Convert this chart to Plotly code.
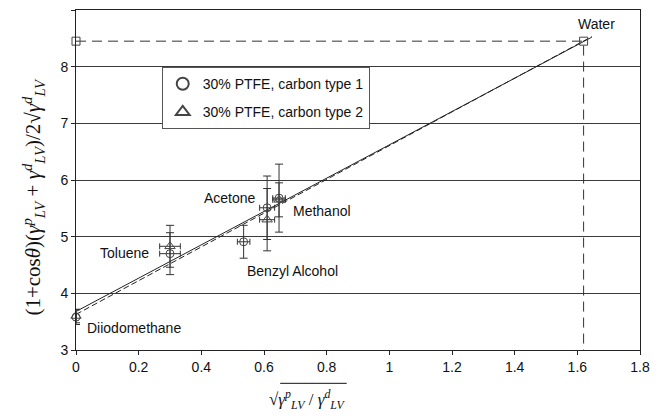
import plotly.graph_objects as go

# ---- data ----
solvents = ["Diiodomethane", "Toluene", "Benzyl Alcohol", "Acetone", "Methanol"]
x_type1 = [0.0, 0.30, 0.535, 0.61, 0.648]
y_type1 = [3.58, 4.70, 4.91, 5.51, 5.68]
ey_type1 = [0.13, 0.37, 0.29, 0.56, 0.60]
ex_type1 = [0.0, 0.033, 0.02, 0.024, 0.02]

x_type2 = [0.0, 0.30, 0.61, 0.648]
y_type2 = [3.60, 4.83, 5.30, 5.65]
ey_type2 = [0.12, 0.37, 0.55, 0.30]
ex_type2 = [0.0, 0.033, 0.024, 0.02]

water_x = [1.62]
water_y = [8.45]

fit1_x = [0.0, 1.646]
fit1_y = [3.68, 8.52]
fit2_x = [0.0, 1.646]
fit2_y = [3.628, 8.53]

label_x = [1.66, 0.58, 0.686, 0.54, 0.07, 0.03]
label_y = [8.76, 5.68, 5.45, 4.40, 4.71, 3.39]
label_text = ["Water", "Acetone", "Methanol", "Benzyl Alcohol", "Toluene", "Diiodomethane"]
label_anchor = ["center", "right", "left", "left", "left", "left"]

x_ticks = [0, 0.2, 0.4, 0.6, 0.8, 1.0, 1.2, 1.4, 1.6, 1.8]
x_ticktext = ["0", "0.2", "0.4", "0.6", "0.8", "1", "1.2", "1.4", "1.6", "1.8"]
y_ticks = [3, 4, 5, 6, 7, 8, 9]

FONT = "Liberation Sans, Arial, sans-serif"
SERIF = "Liberation Serif, Times New Roman, serif"
GRAY = "#3a3a3a"

fig = go.Figure()

# fit lines
fig.add_trace(go.Scatter(x=fit1_x, y=fit1_y, mode="lines",
                         line=dict(color="#222222", width=1), showlegend=False, hoverinfo="skip"))
fig.add_trace(go.Scatter(x=fit2_x, y=fit2_y, mode="lines",
                         line=dict(color="#222222", width=1, dash="6px,3px"), showlegend=False, hoverinfo="skip"))

# water guide lines
fig.add_trace(go.Scatter(x=[0, water_x[0], water_x[0]], y=[water_y[0], water_y[0], 3],
                         mode="lines", line=dict(color="#333333", width=1, dash="10px,6px"),
                         showlegend=False, hoverinfo="skip"))

# series
fig.add_trace(go.Scatter(
    x=x_type1, y=y_type1, mode="markers", name="30% PTFE, carbon type 1", cliponaxis=False,
    legendgroup="a",
    marker=dict(symbol="circle-open", size=8, color="#444444", line=dict(width=1)),
    error_y=dict(type="data", array=ey_type1, visible=True, color="#333333", thickness=1, width=4),
    error_x=dict(type="data", array=ex_type1, visible=True, color="#333333", thickness=1, width=3),
))
fig.add_trace(go.Scatter(
    x=x_type2, y=y_type2, mode="markers", name="30% PTFE, carbon type 2", cliponaxis=False,
    legendgroup="b",
    marker=dict(symbol="triangle-up-open", size=9, color="#444444", line=dict(width=1)),
    error_y=dict(type="data", array=ey_type2, visible=True, color="#333333", thickness=1, width=4),
    error_x=dict(type="data", array=ex_type2, visible=True, color="#333333", thickness=1, width=3),
))
# water points (square)
fig.add_trace(go.Scatter(
    x=[0] + water_x, y=water_y + water_y, mode="markers", showlegend=False, cliponaxis=False,
    marker=dict(symbol="square-open", size=8, color="#444444", line=dict(width=1)),
))

for tx, ty, tt, ta in zip(label_x, label_y, label_text, label_anchor):
    fig.add_annotation(x=tx, y=ty, text=tt, showarrow=False, xanchor=ta, yanchor="middle",
                       font=dict(family=FONT, size=14, color="#111111"))

# axis titles
g = "<i>γ</i>"
ytitle = ("(1+cos<i>θ</i>)(" + g + "<sup><i>p</i></sup><sub><i>LV</i></sub> + "
          + g + "<sup><i>d</i></sup><sub><i>LV</i></sub>)/2√" + g + "<sup><i>d</i></sup><sub><i>LV</i></sub>")
fig.add_annotation(xref="paper", yref="paper", x=-0.077, y=0.45, text=ytitle, textangle=-90,
                   showarrow=False, xanchor="center", yanchor="middle",
                   font=dict(family=SERIF, size=21, color="#111111"))
xtitle = ("√" + g + "<sup><i>p</i></sup><sub><i>LV</i></sub> / "
          + g + "<sup><i>d</i></sup><sub><i>LV</i></sub>")
fig.add_annotation(xref="paper", yref="paper", x=0.41, y=-0.147, text=xtitle,
                   showarrow=False, xanchor="center", yanchor="middle",
                   font=dict(family=SERIF, size=17, color="#111111"))
# radical overline
fig.add_shape(type="line", xref="paper", yref="paper", x0=0.362, x1=0.48, y0=-0.098, y1=-0.098,
              line=dict(color="#111111", width=1))

# page body has an 8px default margin, so the figure is sized to fit the 661x416 window
fig.update_layout(
    width=653, height=408,
    margin=dict(l=68, r=21, t=2, b=66),
    paper_bgcolor="white", plot_bgcolor="white",
    font=dict(family=FONT, size=14, color="#111111"),
    legend=dict(x=0.152, y=0.832, xanchor="left", yanchor="top",
                bordercolor="#555555", borderwidth=1, bgcolor="white",
                font=dict(family=FONT, size=14, color="#111111"),
                itemsizing="constant", tracegroupgap=7, itemwidth=30),
)
fig.update_xaxes(range=[0, 1.8], tickvals=x_ticks, ticktext=x_ticktext,
                 showgrid=False, zeroline=False, showline=True, linecolor="#222222", linewidth=1,
                 mirror=True, ticks="outside", ticklen=4, tickcolor="#222222",
                 tickfont=dict(family=FONT, size=14, color="#111111"))
fig.update_yaxes(range=[3, 9], tickvals=y_ticks,
                 showgrid=True, gridcolor=GRAY, gridwidth=1, zeroline=False,
                 showline=True, linecolor="#222222", linewidth=1,
                 mirror=True, ticks="outside", ticklen=4, tickcolor="#222222",
                 tickfont=dict(family=FONT, size=14, color="#111111"))

fig.write_html("out.html")
